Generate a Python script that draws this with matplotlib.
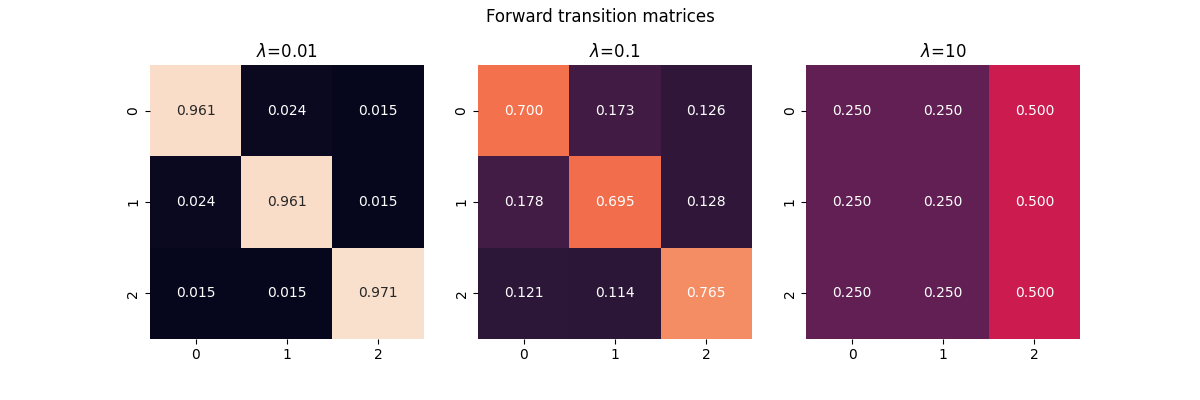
import numpy as np
import matplotlib
matplotlib.use("Agg")
import matplotlib.pyplot as plt
import seaborn as sns

lambdas = ["0.01", "0.1", "10"]

T_001 = np.array([[0.961, 0.024, 0.015],
                  [0.024, 0.961, 0.015],
                  [0.015, 0.015, 0.971]])
T_01 = np.array([[0.700, 0.173, 0.126],
                 [0.178, 0.695, 0.128],
                 [0.121, 0.114, 0.765]])
T_10 = np.array([[0.250, 0.250, 0.500],
                 [0.250, 0.250, 0.500],
                 [0.250, 0.250, 0.500]])

matrices = [T_001, T_01, T_10]

fig, axes = plt.subplots(1, 3, figsize=(12, 4))

for ax, lam, T in zip(axes, lambdas, matrices):
    sns.heatmap(T, ax=ax, vmin=0, vmax=1, annot=True, fmt=".3f",
                cbar=False, square=True)
    ax.set_title(r"$\lambda$=" + lam)

fig.suptitle("Forward transition matrices")
fig.savefig("out.png", dpi=100)
